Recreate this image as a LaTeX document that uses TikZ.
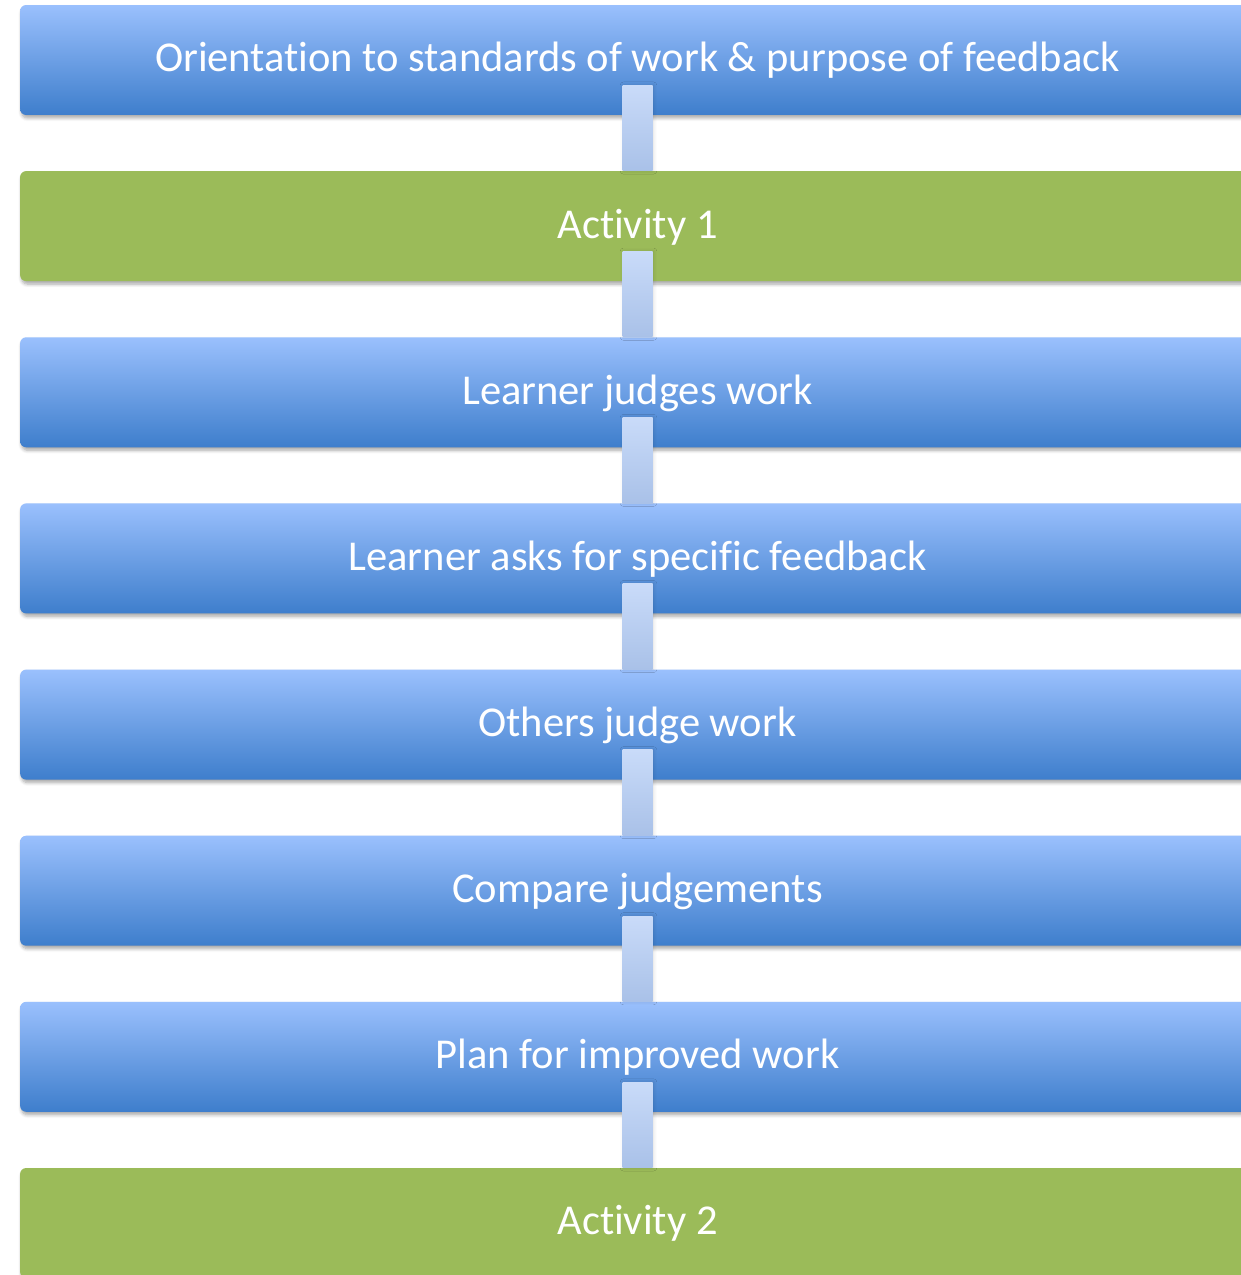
\documentclass[tikz,border=0pt]{standalone}
\usepackage{fontspec}
\setmainfont[RawFeature={-liga;-clig;-calt;-rlig;-dlig;-hlig;-ccmp}]{Carlito}
\usetikzlibrary{shadows,shadows.blur}

\definecolor{stepTop}{HTML}{9AC0FD}
\definecolor{stepBottom}{HTML}{3E7ECC}
\definecolor{activityGreen}{HTML}{9BBB59}
\definecolor{linkTop}{HTML}{C9DBF9}
\definecolor{linkBottom}{HTML}{A9C1E8}

\begin{document}
\begin{tikzpicture}[x=0.02cm,y=-0.02cm,
			    box/.style={inner sep=0mm,minimum height=2.2cm,minimum width=24.7cm,rounded corners=0.12cm,
			                text=white,font=\fontsize{24.2}{29}\selectfont,text height=17pt,text depth=3.4pt,
			                blur shadow={shadow xshift=0.03cm,shadow yshift=-0.06cm,shadow blur steps=6,shadow opacity=35}},
			    stepbox/.style={box,top color=stepTop,bottom color=stepBottom},
			    activity/.style={box,fill=activityGreen},
			    link/.style={top color=linkTop,bottom color=linkBottom,
			                blur shadow={shadow xshift=0.02cm,shadow yshift=0cm,shadow blur steps=3,shadow opacity=15}},
			]
	    \useasboundingbox (0,0) rectangle (1241,1275);

	    \node[stepbox] (orient) at (637.5,60) {Orientation to standards of work \& purpose of feedback};
	    \node[activity] (act1) at (637.5,226.1) {Activity 1};
	    \node[stepbox] (judge) at (637.5,392.3) {Learner judges work};
	    \node[stepbox] (ask) at (637.5,558.4) {Learner asks for specific feedback};
	    \node[stepbox] (others) at (637.5,724.6) {Others judge work};
	    \node[stepbox] (compare) at (637.5,890.7) {Compare judgements};
	    \node[stepbox] (plan) at (637.5,1056.8) {Plan for improved work};
	    \node[activity] (act2) at (637.5,1223) {Activity 2};

	    %links
	    \path [link] ([xshift=-0.3cm,yshift=0.6cm]orient.south) rectangle ([xshift=0.3cm]act1.north);
	    \path [link] ([xshift=-0.3cm,yshift=0.6cm]act1.south) rectangle ([xshift=0.3cm]judge.north);
	    \path [link] ([xshift=-0.3cm,yshift=0.6cm]judge.south) rectangle ([xshift=0.3cm]ask.north);
	    \path [link] ([xshift=-0.3cm,yshift=0.6cm]ask.south) rectangle ([xshift=0.3cm]others.north);
	    \path [link] ([xshift=-0.3cm,yshift=0.6cm]others.south) rectangle ([xshift=0.3cm]compare.north);
	    \path [link] ([xshift=-0.3cm,yshift=0.6cm]compare.south) rectangle ([xshift=0.3cm]plan.north);
	    \path [link] ([xshift=-0.3cm,yshift=0.6cm]plan.south) rectangle ([xshift=0.3cm]act2.north);
	\end{tikzpicture}
\end{document}
